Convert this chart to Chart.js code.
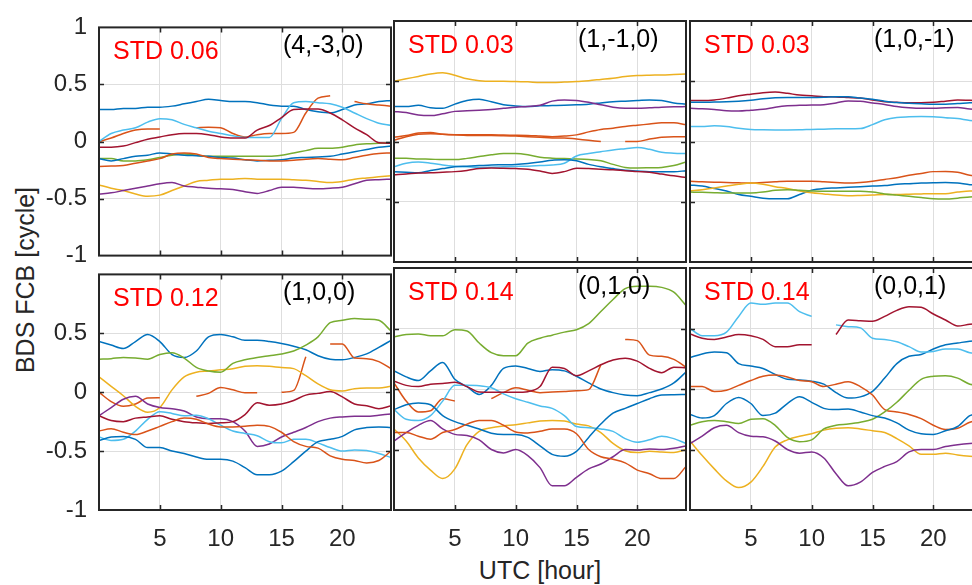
<!DOCTYPE html>
<html>
<head>
<meta charset="utf-8">
<script src="https://cdn.jsdelivr.net/npm/chart.js@4.4.1/dist/chart.umd.min.js"></script>
<style>
  html, body { margin: 0; padding: 0; background: #fff; overflow: hidden; width: 972px; height: 585px; position: relative; }
  canvas { position: absolute; }
  .axis-title { position: absolute; font-family: "Liberation Sans", Arial, Helvetica, sans-serif; color: #262626; font-size: 25px; line-height: 1; white-space: nowrap; }
</style>
</head>
<body>
<div class="axis-title" id="xtitle">UTC [hour]</div>
<div class="axis-title" id="ytitle">BDS FCB [cycle]</div>
<script>
// ---- data -------------------------------------------------------------
const HOURS = [0,1,2,3,4,5,6,7,8,9,10,11,12,13,14,15,16,17,18,19,20,21,22,23,24];
const X_TICKS = [5, 10, 15, 20];
const Y_TICKS = [-1, -0.5, 0, 0.5, 1];

const PANEL_TAGS = ['(4,-3,0)', '(1,-1,0)', '(1,0,-1)', '(1,0,0)', '(0,1,0)', '(0,0,1)'];
const PANEL_STD  = [0.06, 0.03, 0.03, 0.12, 0.14, 0.14];

// (4,-3,0)
const A_blue1     = [0.28,0.28,0.29,0.29,0.30,0.30,0.31,0.33,0.35,0.37,0.36,0.35,0.35,0.34,0.32,0.31,0.31,0.28,0.26,0.25,0.28,0.32,0.33,0.35,0.36];
const A_orange1   = [0,0.03,0.07,0.1,0.11,0.11,null,null,0.12,0.125,0.12,0.07,0.04,0.06,0.07,0.07,0.08,0.25,0.38,0.4,null,0.35,0.33,0.32,0.31];
const A_yellow    = [-0.38,-0.41,-0.43,-0.46,-0.48,-0.47,-0.43,-0.39,-0.35,-0.34,-0.33,-0.33,-0.325,-0.33,-0.33,-0.33,-0.335,-0.34,-0.35,-0.36,-0.35,-0.33,-0.32,-0.31,-0.3];
const A_purple    = [-0.46,-0.45,-0.43,-0.41,-0.39,-0.37,-0.36,-0.39,-0.4,-0.41,-0.415,-0.42,-0.44,-0.455,-0.43,-0.4,-0.4,-0.41,-0.415,-0.41,-0.4,-0.37,-0.34,-0.335,-0.33];
const A_green     = [-0.15,-0.15,-0.17,-0.17,-0.16,-0.14,-0.12,-0.11,-0.12,-0.13,-0.13,-0.13,-0.13,-0.13,-0.13,-0.12,-0.1,-0.08,-0.06,-0.06,-0.05,-0.03,-0.02,-0.015,-0.01];
const A_lightblue = [0,0.07,0.1,0.12,0.17,0.2,0.19,0.15,0.12,0.09,0.07,0.05,0.035,0.035,0.035,0.2,0.34,0.35,0.34,0.33,0.3,0.25,0.2,0.16,0.14];
const A_darkred   = [-0.05,-0.05,-0.04,-0.01,0.02,0.04,0.06,0.07,0.07,0.06,0.04,0.03,0.03,0.1,0.14,0.21,0.28,0.285,0.285,0.25,0.19,0.12,0.06,-0.01,-0.015];
const A_blue2     = [-0.15,-0.17,-0.15,-0.13,-0.12,-0.1,-0.11,-0.12,-0.125,-0.13,-0.14,-0.145,-0.16,-0.17,-0.165,-0.16,-0.145,-0.14,-0.135,-0.13,-0.11,-0.09,-0.07,-0.05,-0.04];
const A_orange2   = [-0.22,-0.215,-0.21,-0.19,-0.17,-0.15,-0.11,-0.1,-0.11,-0.14,-0.15,-0.155,-0.16,-0.165,-0.17,-0.17,-0.165,-0.155,-0.15,-0.155,-0.16,-0.14,-0.12,-0.105,-0.1];

// (1,-1,0)
const B_yellow    = [0.5,0.52,0.54,0.56,0.57,0.55,0.52,0.505,0.5,0.5,0.497,0.495,0.49,0.49,0.493,0.497,0.505,0.515,0.525,0.54,0.547,0.55,0.552,0.556,0.56];
const B_blue1     = [0.29,0.29,0.3,0.28,0.275,0.31,0.34,0.35,0.33,0.305,0.295,0.29,0.296,0.298,0.3,0.304,0.31,0.32,0.33,0.335,0.34,0.345,0.34,0.32,0.31];
const B_purple    = [0.25,0.24,0.22,0.215,0.23,0.25,0.255,0.26,0.265,0.275,0.285,0.29,0.3,0.335,0.345,0.34,0.325,0.305,0.285,0.276,0.276,0.28,0.285,0.288,0.29];
const B_orange1   = [0.035,0.05,0.07,0.075,0.06,0.055,0.055,0.055,0.055,0.053,0.052,0.05,0.045,0.04,0.045,0.055,0.08,0.1,0.11,0.125,0.135,0.145,0.155,0.155,0.14];
const B_orange2   = [0.01,0.04,0.06,0.065,0.06,0.055,0.05,0.05,0.05,0.048,0.045,0.04,0.035,0.03,0.03,0.02,0.01,0,null,0,0,0.02,0.035,0.04,0.04];
const B_green     = [-0.14,-0.14,-0.145,-0.147,-0.15,-0.15,-0.14,-0.125,-0.11,-0.1,-0.1,-0.11,-0.13,-0.138,-0.142,-0.145,-0.15,-0.16,-0.19,-0.215,-0.22,-0.218,-0.215,-0.2,-0.17];
const B_lightblue = [-0.21,-0.18,-0.17,-0.18,-0.195,-0.205,-0.21,-0.215,-0.213,-0.21,-0.207,-0.205,-0.2,-0.195,-0.18,-0.12,-0.1,-0.085,-0.07,-0.06,-0.05,-0.065,-0.09,-0.097,-0.1];
const B_blue2     = [-0.25,-0.255,-0.26,-0.24,-0.225,-0.21,-0.205,-0.2,-0.195,-0.193,-0.19,-0.182,-0.17,-0.155,-0.152,-0.16,-0.19,-0.21,-0.225,-0.238,-0.245,-0.25,-0.25,-0.25,-0.243];
const B_darkred   = [-0.276,-0.27,-0.262,-0.26,-0.255,-0.25,-0.24,-0.225,-0.22,-0.222,-0.225,-0.23,-0.245,-0.265,-0.25,-0.222,-0.225,-0.23,-0.235,-0.243,-0.25,-0.255,-0.27,-0.285,-0.298];

// (1,0,-1)
const C_darkred   = [0.34,0.34,0.345,0.36,0.38,0.393,0.405,0.41,0.4,0.385,0.38,0.372,0.37,0.365,0.36,0.345,0.33,0.325,0.322,0.322,0.326,0.335,0.344,0.342,0.34];
const C_blue1     = [0.325,0.325,0.328,0.33,0.335,0.343,0.355,0.363,0.366,0.366,0.366,0.368,0.372,0.372,0.36,0.35,0.335,0.323,0.317,0.313,0.31,0.31,0.315,0.322,0.325];
const C_purple    = [0.275,0.272,0.265,0.255,0.253,0.26,0.267,0.285,0.297,0.3,0.302,0.305,0.32,0.337,0.335,0.32,0.308,0.29,0.28,0.275,0.275,0.28,0.282,0.27,0.268];
const C_lightblue = [0.124,0.125,0.13,0.125,0.11,0.1,0.097,0.096,0.096,0.097,0.1,0.102,0.105,0.105,0.107,0.14,0.18,0.2,0.205,0.207,0.205,0.197,0.19,0.175,0.17];
const C_orange    = [-0.33,-0.335,-0.338,-0.34,-0.343,-0.345,-0.34,-0.335,-0.33,-0.33,-0.33,-0.335,-0.34,-0.345,-0.34,-0.33,-0.315,-0.3,-0.28,-0.265,-0.25,-0.248,-0.255,-0.28,-0.29];
const C_blue2     = [-0.36,-0.37,-0.39,-0.41,-0.44,-0.455,-0.47,-0.475,-0.475,-0.44,-0.405,-0.39,-0.385,-0.38,-0.375,-0.37,-0.365,-0.355,-0.35,-0.345,-0.342,-0.34,-0.345,-0.358,-0.36];
const C_yellow    = [-0.41,-0.4,-0.385,-0.37,-0.355,-0.345,-0.355,-0.375,-0.39,-0.41,-0.425,-0.435,-0.445,-0.45,-0.448,-0.445,-0.44,-0.44,-0.438,-0.435,-0.433,-0.433,-0.42,-0.41,-0.41];
const C_green     = [-0.42,-0.422,-0.425,-0.427,-0.427,-0.427,-0.42,-0.405,-0.4,-0.405,-0.41,-0.413,-0.413,-0.413,-0.413,-0.42,-0.435,-0.445,-0.455,-0.465,-0.475,-0.477,-0.47,-0.46,-0.455];

// (1,0,0)
const D_blue1     = [0.43,0.4,0.37,0.43,0.49,0.43,0.32,0.295,0.35,0.47,0.49,0.47,0.44,0.44,0.43,0.413,0.39,0.36,0.31,0.28,0.275,0.295,0.325,0.38,0.44];
const D_orange1   = [0,-0.08,-0.12,-0.1,-0.05,-0.047,null,null,-0.035,-0.01,0.04,0.02,-0.005,-0.005,null,0,0.015,0.3,null,0.41,0.41,0.29,0.285,0.26,0.2];
const D_yellow    = [0.13,0.05,-0.03,-0.12,-0.17,-0.13,0.02,0.13,0.17,0.18,0.19,0.2,0.22,0.225,0.22,0.21,0.2,0.14,0.07,0.02,0.01,0.03,0.035,0.035,0.05];
const D_purple    = [-0.2,-0.13,-0.06,-0.035,-0.1,-0.13,-0.14,-0.16,-0.21,-0.225,-0.225,-0.25,-0.33,-0.46,-0.44,-0.38,-0.34,-0.3,-0.25,-0.22,-0.21,-0.205,-0.205,-0.195,-0.185];
const D_green     = [0.28,0.285,0.295,0.29,0.28,0.32,0.335,0.29,0.21,0.18,0.17,0.245,0.275,0.295,0.31,0.325,0.35,0.4,0.47,0.59,0.61,0.625,0.62,0.61,0.52];
const D_lightblue = [-0.38,-0.41,-0.4,-0.33,-0.23,-0.165,-0.18,-0.2,-0.195,-0.225,-0.28,-0.33,-0.35,-0.37,-0.42,-0.43,-0.4,-0.4,-0.43,-0.47,-0.5,-0.49,-0.495,-0.52,-0.555];
const D_darkred   = [-0.2,-0.24,-0.25,-0.22,-0.21,-0.2,-0.23,-0.25,-0.26,-0.265,-0.26,-0.25,-0.19,-0.09,-0.11,-0.1,-0.07,-0.025,-0.01,0.005,-0.04,-0.1,-0.115,-0.14,-0.115];
const D_blue2     = [-0.41,-0.38,-0.375,-0.4,-0.47,-0.47,-0.5,-0.52,-0.55,-0.57,-0.57,-0.585,-0.64,-0.7,-0.7,-0.67,-0.59,-0.5,-0.42,-0.4,-0.375,-0.32,-0.3,-0.295,-0.3];
const D_orange2   = [-0.33,-0.31,-0.34,-0.36,-0.33,-0.29,-0.25,-0.22,-0.23,-0.27,-0.295,-0.295,-0.29,-0.28,-0.29,-0.34,-0.42,-0.46,-0.475,-0.54,-0.57,-0.58,-0.6,-0.58,-0.5];

// (0,1,0)
const E_blue1     = [0.15,0.1,0.07,0.15,0.22,0.08,0.02,-0.045,0.03,0.17,0.19,0.17,0.145,0.16,0.15,0.105,0.05,0,-0.03,-0.05,-0.055,-0.03,0,0.05,0.14];
const E_orange1   = [0.05,-0.1,-0.19,-0.18,-0.08,-0.1,null,null,-0.08,-0.03,0.01,-0.01,-0.03,-0.025,-0.02,-0.015,-0.005,0.2,null,0.41,0.4,0.28,0.27,0.245,0.18];
const E_yellow    = [-0.33,-0.43,-0.57,-0.67,-0.74,-0.66,-0.46,-0.35,-0.32,-0.305,-0.295,-0.28,-0.265,-0.26,-0.265,-0.29,-0.305,-0.36,-0.45,-0.51,-0.525,-0.515,-0.52,-0.525,-0.5];
const E_purple    = [-0.43,-0.36,-0.3,-0.26,-0.33,-0.375,-0.385,-0.42,-0.5,-0.528,-0.5,-0.55,-0.65,-0.8,-0.8,-0.73,-0.66,-0.62,-0.56,-0.5,-0.505,-0.495,-0.5,-0.49,-0.47];
const E_green     = [0.43,0.45,0.455,0.44,0.44,0.49,0.48,0.38,0.3,0.275,0.275,0.38,0.42,0.445,0.47,0.49,0.54,0.64,0.74,0.83,0.85,0.85,0.84,0.8,0.69];
const E_lightblue = [-0.17,-0.25,-0.26,-0.22,-0.1,0.03,0.03,0.027,0.01,-0.04,-0.08,-0.11,-0.14,-0.16,-0.22,-0.31,-0.32,-0.33,-0.35,-0.41,-0.44,-0.42,-0.39,-0.41,-0.45];
const E_darkred   = [0.065,0.03,0.02,0.04,0.045,0.055,0.02,-0.025,-0.027,-0.027,-0.027,-0.022,0.02,0.18,0.17,0.11,0.15,0.2,0.24,0.255,0.23,0.17,0.135,0.18,0.175];
const E_blue2     = [-0.17,-0.13,-0.115,-0.13,-0.22,-0.27,-0.3,-0.33,-0.365,-0.377,-0.377,-0.4,-0.47,-0.54,-0.555,-0.515,-0.4,-0.29,-0.2,-0.16,-0.12,-0.08,-0.05,-0.047,-0.045];
const E_orange2   = [-0.36,-0.36,-0.39,-0.415,-0.36,-0.335,-0.29,-0.26,-0.26,-0.3,-0.355,-0.363,-0.35,-0.33,-0.33,-0.37,-0.5,-0.56,-0.58,-0.61,-0.67,-0.7,-0.74,-0.74,-0.64];

// (0,0,1)
const F_blue1     = [0.26,0.29,0.305,0.3,0.21,0.19,0.17,0.12,0.08,0.075,0.065,0.04,-0.03,-0.075,-0.065,-0.02,0.09,0.21,0.27,0.285,0.33,0.365,0.38,0.395,0.4];
const F_orange    = [0.02,0.02,-0.02,-0.01,0.03,0.07,0.105,0.115,0.1,0.07,0.06,0.02,0.04,0.06,0.02,-0.05,-0.17,-0.19,-0.21,-0.245,-0.3,-0.335,-0.325,-0.275,-0.25];
const F_yellow    = [-0.43,-0.55,-0.66,-0.76,-0.815,-0.77,-0.64,-0.48,-0.42,-0.39,-0.37,-0.34,-0.325,-0.32,-0.33,-0.345,-0.36,-0.41,-0.47,-0.54,-0.54,-0.53,-0.545,-0.555,-0.56];
const F_purple    = [-0.45,-0.39,-0.32,-0.3,-0.36,-0.39,-0.395,-0.43,-0.5,-0.53,-0.52,-0.57,-0.7,-0.8,-0.77,-0.69,-0.64,-0.6,-0.52,-0.5,-0.5,-0.475,-0.46,-0.45,-0.445];
const F_green     = [-0.3,-0.27,-0.26,-0.27,-0.285,-0.25,-0.245,-0.3,-0.4,-0.435,-0.42,-0.33,-0.3,-0.29,-0.275,-0.25,-0.19,-0.11,-0.01,0.08,0.105,0.11,0.09,0.04,0.03];
const F_lightblue = [0.5,0.44,0.44,0.47,0.6,0.71,0.7,0.71,0.71,0.64,0.6,null,0.53,0.515,0.505,0.42,0.41,0.39,0.35,0.305,0.31,0.33,0.33,0.3,0.29];
const F_darkred   = [0.455,0.42,0.41,0.43,0.45,0.44,0.41,0.35,0.35,0.365,0.365,null,0.45,0.57,0.565,0.56,0.6,0.65,0.68,0.675,0.62,0.57,0.52,0.535,0.54];
const F_blue2     = [-0.21,-0.24,-0.22,-0.12,-0.07,-0.12,-0.22,-0.2,-0.12,-0.065,-0.11,-0.16,-0.17,-0.165,-0.19,-0.22,-0.24,-0.28,-0.34,-0.37,-0.375,-0.345,-0.31,-0.22,-0.2];

// ---- styling ----------------------------------------------------------
const COLORS = {
  blue: '#0072BD', orange: '#D95319', yellow: '#EDB120', purple: '#7E2F8E',
  green: '#77AC30', lightblue: '#4DBEEE', darkred: '#A2142F'
};
const FONT = '"Liberation Sans", Arial, Helvetica, sans-serif';
const AXIS_COLOR = '#262626';
const GRID_COLOR = '#dedede';

const PANELS = [
  [['blue', A_blue1], ['orange', A_orange1], ['yellow', A_yellow], ['purple', A_purple], ['green', A_green],
   ['lightblue', A_lightblue], ['darkred', A_darkred], ['blue', A_blue2], ['orange', A_orange2]],
  [['yellow', B_yellow], ['blue', B_blue1], ['purple', B_purple], ['orange', B_orange1], ['orange', B_orange2],
   ['green', B_green], ['lightblue', B_lightblue], ['blue', B_blue2], ['darkred', B_darkred]],
  [['darkred', C_darkred], ['blue', C_blue1], ['purple', C_purple], ['lightblue', C_lightblue], ['orange', C_orange],
   ['blue', C_blue2], ['yellow', C_yellow], ['green', C_green]],
  [['blue', D_blue1], ['orange', D_orange1], ['yellow', D_yellow], ['purple', D_purple], ['green', D_green],
   ['lightblue', D_lightblue], ['darkred', D_darkred], ['blue', D_blue2], ['orange', D_orange2]],
  [['blue', E_blue1], ['orange', E_orange1], ['yellow', E_yellow], ['purple', E_purple], ['green', E_green],
   ['lightblue', E_lightblue], ['darkred', E_darkred], ['blue', E_blue2], ['orange', E_orange2]],
  [['blue', F_blue1], ['orange', F_orange], ['yellow', F_yellow], ['purple', F_purple], ['green', F_green],
   ['lightblue', F_lightblue], ['darkred', F_darkred], ['blue', F_blue2]]
];

// plot-area rectangles of the 3 x 2 grid (the right column runs past the page edge)
const COL_EDGES = [[99, 391], [394, 686], [690, 982]];
const ROW_EDGES = [[21, 262], [268, 510]];

// box, inward tick marks and the two in-panel labels
const panelDecor = {
  id: 'panelDecor',
  afterDatasetsDraw(chart, args, opts) {
    const { ctx, chartArea: a, scales: { x, y } } = chart;
    const tl = 5;
    ctx.save();
    ctx.strokeStyle = AXIS_COLOR;
    ctx.lineWidth = 1.5;
    ctx.beginPath();
    X_TICKS.forEach(v => {
      const px = Math.round(x.getPixelForValue(v)) + 0.5;
      ctx.moveTo(px, a.bottom); ctx.lineTo(px, a.bottom - tl);
      ctx.moveTo(px, a.top); ctx.lineTo(px, a.top + tl);
    });
    Y_TICKS.slice(1, -1).forEach(v => {
      const py = Math.round(y.getPixelForValue(v)) + 0.5;
      ctx.moveTo(a.left, py); ctx.lineTo(a.left + tl, py);
      ctx.moveTo(a.right, py); ctx.lineTo(a.right - tl, py);
    });
    ctx.stroke();
    ctx.lineWidth = 2;
    ctx.strokeRect(a.left, a.top, a.right - a.left, a.bottom - a.top);

    ctx.textBaseline = 'middle';
    ctx.textAlign = 'left';
    ctx.font = '25px ' + FONT;
    ctx.fillStyle = '#ff0000';
    ctx.fillText('STD ' + opts.std.toFixed(2), a.left + 14, a.top + 25);
    ctx.font = '25px ' + FONT;
    ctx.fillStyle = '#000000';
    ctx.fillText(opts.tag, a.left + 184, a.top + 19);
    ctx.restore();
  }
};

function makePanel(idx) {
  const col = idx % 3, row = Math.floor(idx / 3);
  const [left, right] = COL_EDGES[col];
  const [top, bottom] = ROW_EDGES[row];
  const padL = col === 0 ? left : 20;
  const padR = 20, padT = 20, padB = row === 1 ? 75 : 20;
  const w = right - left + padL + padR;
  const h = bottom - top + padT + padB;

  const canvas = document.createElement('canvas');
  canvas.width = w; canvas.height = h;
  canvas.style.width = w + 'px'; canvas.style.height = h + 'px';
  canvas.style.left = (left - padL) + 'px';
  canvas.style.top = (top - padT) + 'px';
  document.body.appendChild(canvas);

  const datasets = PANELS[idx].map(([color, values], i) => ({
    data: HOURS.map((hr, k) => ({ x: hr, y: values[k] })),
    borderColor: COLORS[color],
    borderWidth: 1.5,
    pointRadius: 0,
    cubicInterpolationMode: 'monotone',
    spanGaps: false,
    fill: false,
    order: -i
  }));

  new Chart(canvas, {
    type: 'line',
    data: { datasets },
    options: {
      responsive: false,
      animation: false,
      devicePixelRatio: 1,
      layout: { padding: { top: padT, right: padR, left: 0, bottom: 0 } },
      plugins: {
        legend: { display: false },
        tooltip: { enabled: false },
        panelDecor: { std: PANEL_STD[idx], tag: PANEL_TAGS[idx] }
      },
      scales: {
        x: {
          type: 'linear', min: 0, max: 24,
          afterBuildTicks: s => { s.ticks = X_TICKS.map(v => ({ value: v })); },
          afterFit: s => { s.height = padB; },
          grid: { color: GRID_COLOR, drawTicks: false },
          border: { display: false },
          ticks: {
            display: row === 1, padding: 15, color: AXIS_COLOR, autoSkip: false, maxRotation: 0,
            font: { family: FONT, size: 24 },
            callback: v => String(v)
          }
        },
        y: {
          type: 'linear', min: -1, max: 1,
          afterBuildTicks: s => { s.ticks = Y_TICKS.map(v => ({ value: v })); },
          afterFit: s => { s.width = padL; },
          grid: { color: GRID_COLOR, drawTicks: false },
          border: { display: false },
          ticks: {
            display: col === 0, padding: 12, color: AXIS_COLOR,
            font: { family: FONT, size: 24 },
            callback: v => (row === 1 && v === 1) ? '' : String(v)
          }
        }
      }
    },
    plugins: [panelDecor]
  });
}

for (let i = 0; i < PANELS.length; i++) makePanel(i);

// shared axis titles
const xt = document.getElementById('xtitle');
xt.style.left = '540px'; xt.style.top = '570px';
xt.style.transform = 'translate(-50%, -50%)';
const yt = document.getElementById('ytitle');
yt.style.left = '25px'; yt.style.top = '280px';
yt.style.transform = 'translate(-50%, -50%) rotate(-90deg)';
</script>
</body>
</html>
